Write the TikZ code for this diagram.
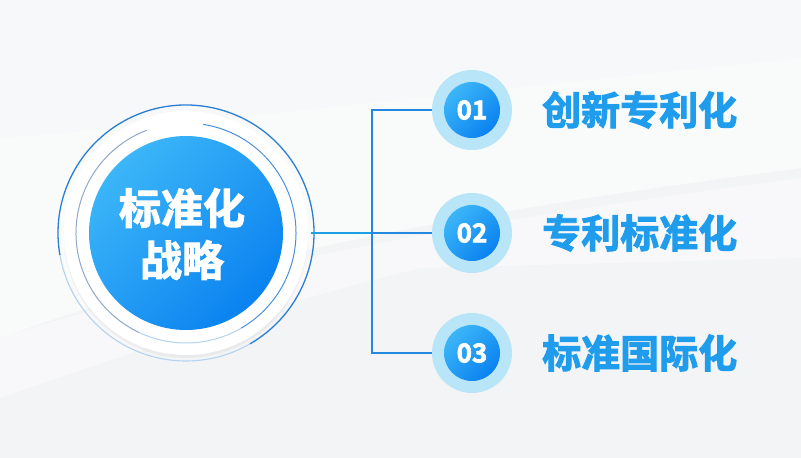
\documentclass[tikz,border=0pt]{standalone}
\usepackage{fontspec}
\newfontfamily\cjk{Noto Sans CJK SC}[UprightFont=* Bold,UprightFeatures={FakeBold=2.5}]
\usetikzlibrary{shadows}
\definecolor{bgbase}{HTML}{F3F4F6}
\definecolor{deepblue}{HTML}{0A82F0}
\definecolor{skyblue}{HTML}{3CB6F8}
\definecolor{haloblue}{HTML}{B9E5F9}
\definecolor{lineblue}{HTML}{2487E0}
\definecolor{ringblue}{HTML}{2A7ED4}
\definecolor{ringgray}{HTML}{8FA8CA}
\definecolor{labelblue}{HTML}{209CEC}

\begin{document}
\begin{tikzpicture}[x=1pt,y=1pt,
  halo/.style={circle,fill=haloblue,minimum size=80pt,inner sep=0pt},
  numdisk/.style={circle,minimum size=56pt,inner sep=0pt,shading=axis,
    top color=skyblue,bottom color=deepblue,shading angle=45,
    text=white,font=\cjk\fontsize{26}{26}\selectfont},
  label/.style={anchor=west,inner sep=0pt,text=labelblue,
    font=\cjk\fontsize{39}{39}\selectfont},
  link/.style={lineblue,line width=1.3pt}]
\useasboundingbox (0,0) rectangle (801,458);
% background
\fill[bgbase] (0,0) rectangle (801,458);
\fill[white,opacity=.55] (0,120) .. controls (250,210) and (500,250) .. (801,290) -- (801,400) .. controls (500,370) and (250,340) .. (0,320) -- cycle;
\fill[white,opacity=.45] (0,60) .. controls (200,130) and (300,160) .. (420,190) -- (801,200) -- (801,280) .. controls (500,240) and (250,200) .. (0,120) -- cycle;
\fill[white,opacity=.4] (0,320) .. controls (250,340) and (500,370) .. (801,400) -- (801,458) -- (0,458) -- cycle;

% centre circle
\node[circle,fill=white,minimum size=244pt,inner sep=0pt,
  drop shadow={opacity=.08,shadow xshift=0pt,shadow yshift=-3pt}] (core) at (186,225) {};
\draw[ringblue,line width=1.3pt] ([shift={(-60:128)}]core.center) arc[start angle=-60,end angle=190,radius=128];
\draw[ringblue!35,line width=1.1pt] ([shift={(190:128)}]core.center) arc[start angle=190,end angle=300,radius=128];
\draw[ringblue!85,line width=1pt] ([shift={(81:110)}]core.center) arc[start angle=81,end angle=-60,radius=110];
\draw[ringgray,line width=1pt] ([shift={(111:110)}]core.center) arc[start angle=111,end angle=245,radius=110];
\draw[ringblue!35,line width=1pt] ([shift={(245:110)}]core.center) arc[start angle=245,end angle=300,radius=110];
\node[circle,minimum size=194pt,inner sep=0pt,shading=axis,top color=skyblue,bottom color=deepblue,shading angle=45] (disk) at (core) {};
\node[text=white,align=center,font=\cjk\fontsize{42}{52}\selectfont] (title) at (182,224) {标准化\\战略};

% numbered items
\node[halo] (h1) at (472,348) {};
\node[numdisk] (n1) at (h1) {01};
\node[halo] (h2) at (472,225) {};
\node[numdisk] (n2) at (h2) {02};
\node[halo] (h3) at (472,105) {};
\node[numdisk] (n3) at (h3) {03};

\node[label] (t1) at (542,348) {创新专利化};
\node[label] (t2) at (542,225) {专利标准化};
\node[label] (t3) at (542,105) {标准国际化};

% connectors
\coordinate (j1) at (372,348);
\coordinate (j2) at (372,225);
\coordinate (j3) at (372,105);
\draw[link,lineblue!80!cyan] (core.east) ++(3,0) -- (j2);
\draw[link] (h1.west) -- (j1) -- (j3) -- (h3.west);
\draw[link] (j2) -- (h2.west);

\end{tikzpicture}
\end{document}
